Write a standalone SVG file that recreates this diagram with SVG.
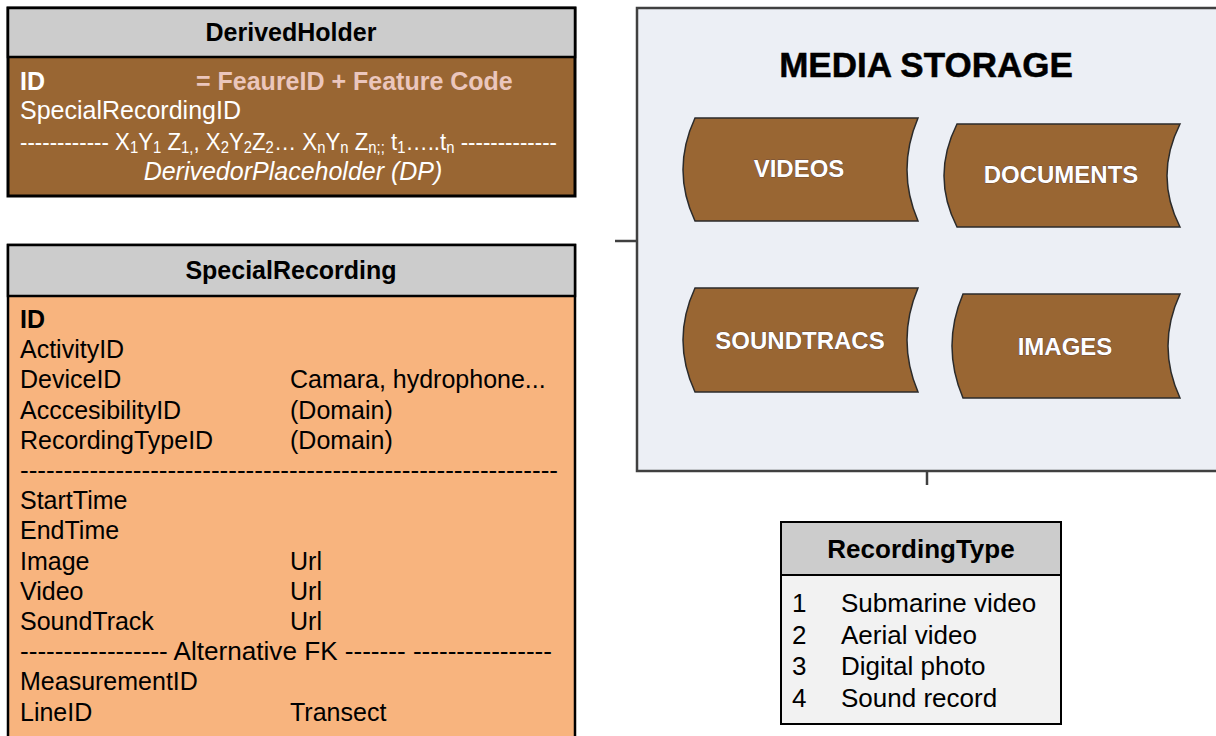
<svg xmlns="http://www.w3.org/2000/svg" width="1216" height="736" viewBox="0 0 1216 736">
<style>
.t{font-family:"Liberation Sans",Arial,sans-serif;font-size:25px;}
.b{font-weight:bold;}
.hdr{fill:#CCCCCC;stroke:#000;stroke-width:2.5;}
.lbl{font-family:"Liberation Sans",Arial,sans-serif;font-size:24px;font-weight:bold;fill:#fff;stroke:#3a2a40;stroke-width:0.6;paint-order:stroke;text-anchor:middle;}
.shape{fill:#996633;stroke:#2b2b2b;stroke-width:1.5;}
.conn{stroke:#404040;stroke-width:2.5;fill:none;}
.rt{font-size:26px;}
.sub{font-size:16px;}
</style>
<rect width="1216" height="736" fill="#ffffff"/>

<g id="connectors">
  <line class="conn" x1="615" y1="241" x2="637" y2="241"/>
  <line class="conn" x1="927" y1="471" x2="927" y2="485"/>
</g>

<g id="derived-holder">
  <rect x="8" y="8" width="567" height="188" fill="#996633" stroke="#000" stroke-width="3"/>
  <rect class="hdr" x="8" y="8" width="567" height="49" stroke-width="3"/>
  <text class="t b" x="291" y="41" text-anchor="middle" fill="#000">DerivedHolder</text>
  <text class="t b" x="20" y="90" fill="#fff">ID</text>
  <text class="t b" x="196" y="90" fill="#EBC6BD">= FeaureID + Feature Code</text>
  <text class="t" x="20" y="119" fill="#fff">SpecialRecordingID</text>
  <text class="t" x="20" y="150" fill="#fff" style="font-size:24px" textLength="537" lengthAdjust="spacingAndGlyphs">------------  X<tspan class="sub" dy="3">1</tspan><tspan dy="-3">Y</tspan><tspan class="sub" dy="3">1</tspan><tspan dy="-3"> Z</tspan><tspan class="sub" dy="3">1,</tspan><tspan dy="-3">, X</tspan><tspan class="sub" dy="3">2</tspan><tspan dy="-3">Y</tspan><tspan class="sub" dy="3">2</tspan><tspan dy="-3">Z</tspan><tspan class="sub" dy="3">2</tspan><tspan dy="-3">… X</tspan><tspan class="sub" dy="3">n</tspan><tspan dy="-3">Y</tspan><tspan class="sub" dy="3">n</tspan><tspan dy="-3"> Z</tspan><tspan class="sub" dy="3">n;;</tspan><tspan dy="-3"> t</tspan><tspan class="sub" dy="3">1</tspan><tspan dy="-3">…..t</tspan><tspan class="sub" dy="3">n</tspan><tspan dy="-3"> -------------</tspan></text>
  <text class="t" x="293" y="180" fill="#fff" font-style="italic" text-anchor="middle">DerivedorPlaceholder (DP)</text>
</g>

<g id="special-recording">
  <rect x="8" y="245" width="567" height="500" fill="#F8B47E" stroke="#000" stroke-width="2.5"/>
  <rect class="hdr" x="8" y="245" width="567" height="51"/>
  <text class="t b" x="291" y="279" text-anchor="middle" fill="#000">SpecialRecording</text>
  <g fill="#000">
    <text class="t b" x="20" y="328">ID</text>
    <text class="t" x="20" y="358.2">ActivityID</text>
    <text class="t" x="20" y="388.4">DeviceID</text>
    <text class="t" x="290" y="388.4">Camara, hydrophone...</text>
    <text class="t" x="20" y="418.6">AcccesibilityID</text>
    <text class="t" x="290" y="418.6">(Domain)</text>
    <text class="t" x="20" y="448.8">RecordingTypeID</text>
    <text class="t" x="290" y="448.8">(Domain)</text>
    <text class="t" x="20" y="479" textLength="538" lengthAdjust="spacingAndGlyphs">--------------------------------------------------------------</text>
    <text class="t" x="20" y="509.2">StartTime</text>
    <text class="t" x="20" y="539.4">EndTime</text>
    <text class="t" x="20" y="569.6">Image</text>
    <text class="t" x="290" y="569.6">Url</text>
    <text class="t" x="20" y="599.8">Video</text>
    <text class="t" x="290" y="599.8">Url</text>
    <text class="t" x="20" y="630">SoundTrack</text>
    <text class="t" x="290" y="630">Url</text>
    <text class="t" x="20" y="660.2" textLength="532" lengthAdjust="spacingAndGlyphs">----------------- Alternative FK ------- ----------------</text>
    <text class="t" x="20" y="690.4">MeasurementID</text>
    <text class="t" x="20" y="720.6">LineID</text>
    <text class="t" x="290" y="720.6">Transect</text>
  </g>
</g>

<g id="media-storage">
  <rect x="637" y="8" width="600" height="463" fill="#ECEFF5" stroke="#404040" stroke-width="2.5"/>
  <text class="t b" x="926" y="77" text-anchor="middle" style="font-size:35px" fill="#000" stroke="#000" stroke-width="0.5">MEDIA STORAGE</text>
  <g id="videos">
    <path class="shape" d="M695,118 L918,118 Q896,170 918,221 L695,221 Q671,170 695,118 Z"/>
    <text class="lbl" x="799" y="177">VIDEOS</text>
  </g>
  <g id="documents">
    <path class="shape" d="M957,124 L1180,124 Q1154,176 1180,227 L957,227 Q931,176 957,124 Z"/>
    <text class="lbl" x="1061" y="183">DOCUMENTS</text>
  </g>
  <g id="soundtracs">
    <path class="shape" d="M695,288 L918,288 Q896,340 918,392 L695,392 Q671,340 695,288 Z"/>
    <text class="lbl" x="800" y="349">SOUNDTRACS</text>
  </g>
  <g id="images">
    <path class="shape" d="M963,294 L1180,294 Q1156,346 1180,398 L963,398 Q941,346 963,294 Z"/>
    <text class="lbl" x="1065" y="355">IMAGES</text>
  </g>
</g>

<g id="recording-type">
  <rect x="781" y="522" width="280" height="202" fill="#F2F2F2" stroke="#000" stroke-width="2"/>
  <rect x="781" y="522" width="280" height="53" fill="#CCCCCC" stroke="#000" stroke-width="2"/>
  <text class="t b rt" x="921" y="558" text-anchor="middle" fill="#000">RecordingType</text>
  <g fill="#000">
    <text class="t rt" x="792" y="612">1</text>
    <text class="t rt" x="841" y="612">Submarine video</text>
    <text class="t rt" x="792" y="643.5">2</text>
    <text class="t rt" x="841" y="643.5">Aerial video</text>
    <text class="t rt" x="792" y="675">3</text>
    <text class="t rt" x="841" y="675">Digital photo</text>
    <text class="t rt" x="792" y="706.5">4</text>
    <text class="t rt" x="841" y="706.5">Sound record</text>
  </g>
</g>
</svg>
